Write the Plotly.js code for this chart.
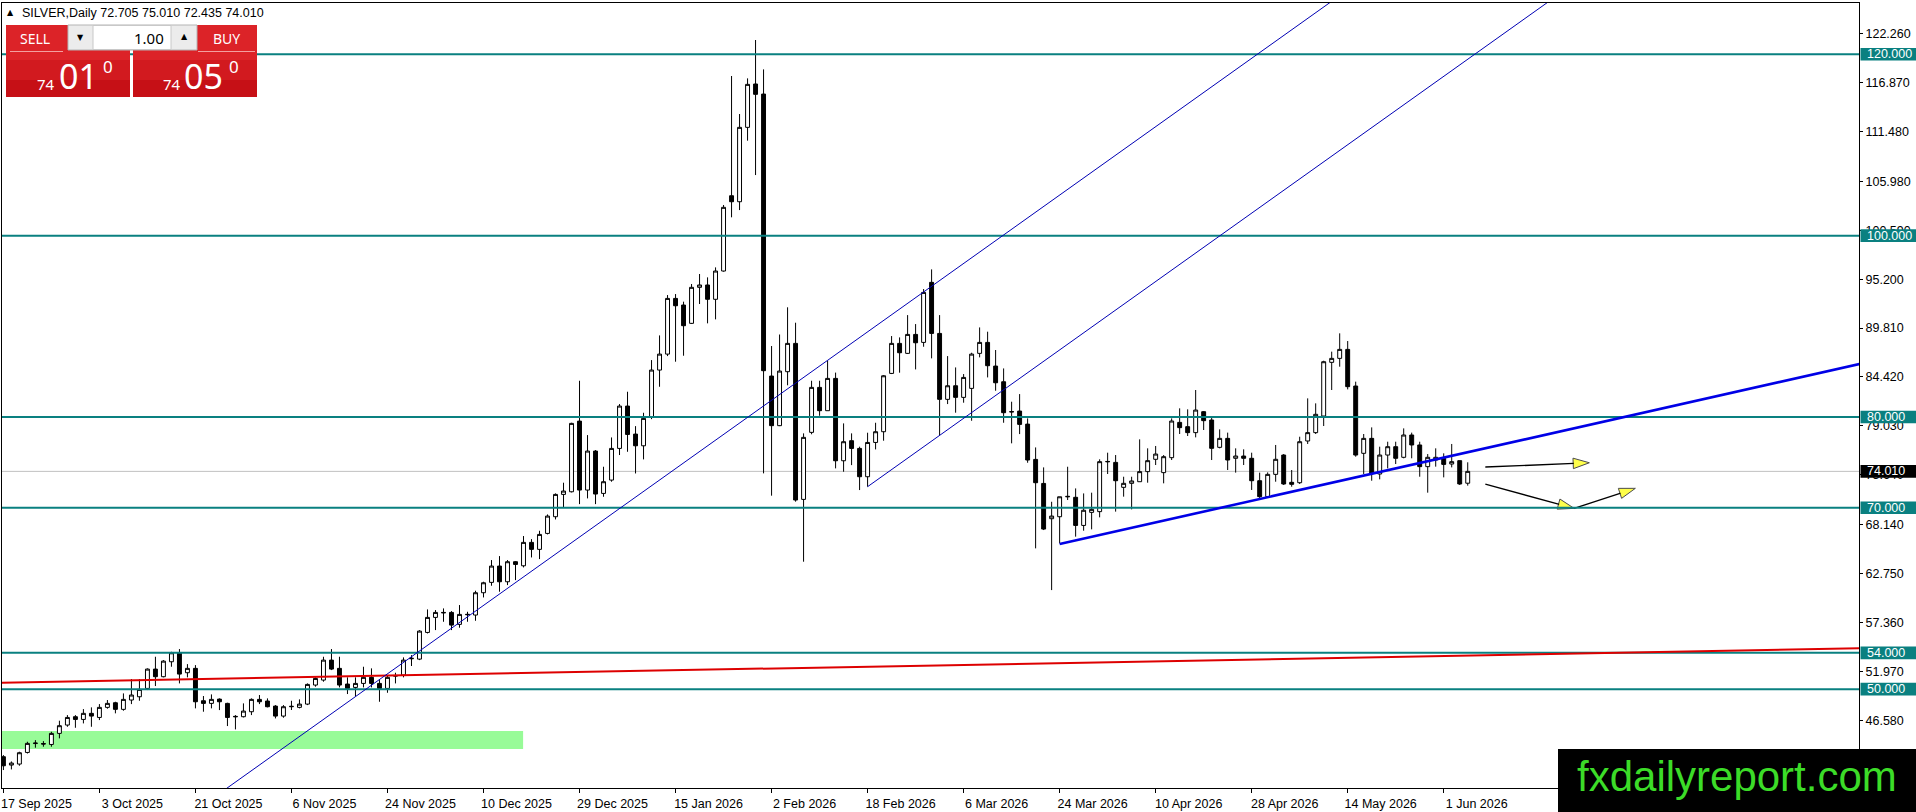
<!DOCTYPE html>
<html><head><meta charset="utf-8">
<script src="https://cdn.plot.ly/plotly-3.0.1.min.js"></script>
<style>html,body{margin:0;padding:0;background:#fff;overflow:hidden}#chart{width:1916px;height:812px}</style>
</head><body><div id="chart"></div>
<script>
// ---- OHLC data (daily bars) ----
const openP = [42.55,41.63,41.74,43.02,44.00,44.00,43.90,45.12,46.04,46.96,46.66,47.33,46.88,47.99,48.50,47.77,48.80,49.16,50.08,52.21,
51.37,53.02,54.01,51.81,52.29,48.72,48.43,48.90,48.43,47.00,46.96,47.51,48.87,48.69,48.13,47.03,48.06,47.99,48.35,50.45,
51.00,53.20,52.29,50.56,50.19,50.63,51.30,50.63,50.08,51.44,51.55,53.35,53.31,56.25,57.91,58.46,58.46,57.14,58.20,58.17,
60.63,61.77,63.57,61.84,64.05,63.60,66.18,65.41,67.17,69.01,71.47,71.76,79.55,71.95,76.25,71.58,73.05,76.54,81.21,78.12,
76.83,79.96,85.18,86.94,93.08,92.35,90.33,94.30,94.56,92.98,96.10,104.40,103.74,111.94,116.72,115.61,84.52,79.05,85.00,88.12,
70.92,78.31,83.27,80.70,84.26,75.18,77.39,76.54,73.42,77.20,78.38,84.81,88.12,87.02,89.11,88.23,94.85,89.22,81.95,83.45,
82.17,83.16,87.02,88.23,85.62,83.89,80.55,80.66,79.22,75.33,72.68,68.79,69.01,71.20,71.15,68.05,69.49,69.57,75.06,75.00,
72.25,72.69,72.87,73.98,75.34,73.87,75.52,79.41,78.94,78.28,80.59,79.67,76.66,77.65,75.45,75.70,75.45,72.98,71.22,73.68,
75.81,72.80,72.76,77.36,78.28,80.11,86.03,86.47,87.46,83.42,76.00,77.65,73.72,75.81,76.73,75.56,78.02,76.92,74.53,75.26,
75.45,74.82,75.19,72.705];
const highP = [42.73,42.03,43.10,44.20,44.38,44.27,45.30,46.52,47.14,47.14,47.80,47.99,48.35,48.80,48.61,49.53,51.11,51.11,52.29,53.57,
53.20,54.12,54.42,52.76,52.65,49.24,49.42,48.98,48.50,47.14,48.43,48.98,49.35,48.98,48.24,48.24,48.72,48.87,50.63,51.30,
53.57,54.42,53.57,51.30,51.30,52.47,52.29,51.00,51.55,51.81,53.50,53.75,56.50,58.79,58.72,58.90,58.60,59.27,58.53,60.85,
61.84,64.23,64.67,64.23,64.12,66.88,66.54,67.46,69.26,71.58,72.76,79.37,84.00,78.01,76.36,74.52,77.75,81.43,82.79,79.00,
80.47,86.28,89.00,93.45,93.56,92.72,94.67,95.77,95.40,96.50,103.38,117.60,113.41,117.34,121.57,118.33,87.83,89.10,92.10,90.40,
78.20,84.00,84.00,86.20,84.90,79.30,78.20,76.73,78.27,79.37,84.63,88.93,88.78,91.24,90.25,94.11,96.28,91.24,86.72,85.47,
84.74,87.09,89.88,89.41,87.39,85.36,81.69,82.53,79.85,76.65,74.45,70.66,71.21,74.52,72.13,71.58,71.66,75.34,76.07,75.81,
73.42,73.42,77.54,76.55,76.81,75.81,79.85,80.96,80.85,82.98,80.66,80.11,78.64,78.28,76.55,76.44,76.07,73.87,73.90,76.92,
75.92,74.16,77.83,82.06,81.51,86.21,87.21,89.23,88.38,83.90,78.13,78.86,76.73,77.28,77.28,78.75,78.28,77.28,75.92,76.55,
76.00,77.03,75.19,75.010];
const lowP = [41.08,41.15,41.55,42.90,43.54,43.65,43.65,44.57,45.85,45.74,46.22,45.85,46.59,47.84,47.33,47.62,48.35,48.72,49.90,50.34,
51.30,52.47,50.63,51.30,47.88,47.51,47.88,47.69,45.93,45.56,46.88,47.14,48.35,47.99,46.77,46.85,47.70,47.88,48.24,50.27,
50.82,52.10,50.19,49.46,49.24,50.19,50.19,48.61,49.60,50.63,51.30,52.55,53.20,56.14,56.51,57.43,56.51,56.77,57.43,57.54,
60.11,61.40,60.74,61.47,62.02,63.42,64.52,64.34,67.06,68.71,70.04,71.69,70.40,71.03,70.40,71.21,72.87,75.81,76.17,73.78,
75.33,79.77,83.34,86.72,86.10,86.76,90.26,92.46,90.33,90.77,96.03,102.02,102.82,110.47,106.68,73.79,71.33,79.00,83.50,70.67,
64.05,78.10,80.14,80.70,74.34,73.97,74.70,71.95,72.32,76.43,77.39,84.74,84.89,86.95,85.25,87.75,86.47,78.01,81.43,80.48,
81.58,79.59,86.58,84.37,82.90,79.37,77.10,78.12,74.96,65.52,67.54,60.92,66.07,70.85,66.81,67.47,67.62,68.94,73.72,69.57,
71.22,69.82,72.87,72.76,74.71,72.69,75.26,78.13,77.91,77.76,78.57,75.26,76.55,74.16,73.87,74.71,71.96,71.04,71.20,72.87,
72.51,72.32,72.62,77.03,78.13,79.01,82.98,85.55,83.05,75.63,73.72,72.98,73.13,74.34,74.82,75.45,75.45,73.42,71.66,74.53,
73.35,74.45,72.51,72.435];
const closeP = [41.55,41.85,42.99,44.02,44.05,43.95,45.12,45.97,46.88,46.66,47.33,47.03,47.99,48.43,47.77,48.87,49.35,49.97,52.21,51.37,
53.09,54.01,51.66,52.29,48.61,48.43,48.87,48.61,46.88,46.96,47.58,48.87,48.61,48.06,47.03,48.06,48.10,48.35,50.52,51.18,
53.20,52.21,50.45,50.08,50.63,51.30,50.63,50.08,51.30,51.48,53.20,53.40,56.40,57.91,58.46,58.42,57.06,58.24,58.24,60.63,
61.73,63.57,61.84,64.05,63.75,66.18,65.41,67.06,69.08,71.47,71.84,79.30,71.95,76.25,71.51,72.87,76.54,81.21,78.08,76.83,
79.85,85.18,86.94,93.08,92.27,90.07,94.30,94.56,92.98,96.10,103.12,103.74,111.94,116.68,115.58,85.11,79.05,85.07,88.12,70.85,
77.76,83.27,80.70,84.26,75.18,77.28,76.54,73.42,77.20,78.38,84.55,88.12,87.09,89.11,88.19,93.74,89.22,81.95,83.45,82.17,
84.37,86.94,88.23,85.66,83.78,80.48,80.60,79.19,75.26,72.76,67.65,69.08,71.21,71.25,68.05,69.72,69.82,75.08,75.10,72.98,
72.69,72.95,73.98,75.19,75.92,75.63,79.56,78.83,78.28,80.77,79.60,76.55,77.65,75.26,75.70,75.45,72.98,71.22,73.68,75.34,
72.62,72.58,77.28,78.28,80.30,86.10,86.47,87.46,83.35,75.81,77.65,73.79,75.81,76.73,75.45,78.02,76.92,74.53,75.56,75.56,
74.78,75.08,72.62,74.010];

// ---- axis labels ----
const tickBars = [0,12,24,36,48,60,72,84,96,108,120,132,144,156,168,180];
const tickLabels = ['17 Sep 2025','3 Oct 2025','21 Oct 2025','6 Nov 2025','24 Nov 2025','10 Dec 2025','29 Dec 2025','15 Jan 2026',
'2 Feb 2026','18 Feb 2026','6 Mar 2026','24 Mar 2026','10 Apr 2026','28 Apr 2026','14 May 2026','1 Jun 2026'];
const yTicks = [122.26,116.87,111.48,105.98,100.59,95.20,89.81,84.42,79.03,73.64,68.14,62.75,57.36,51.97,46.58];

// ---- drawn objects (bar index, price) ----
const levels = [120, 100, 80, 70, 54, 50];
const lastPrice = 74.010;
const headerInfo = ['SILVER,Daily', '72.705', '75.010', '72.435', '74.010'];
const sellQuote = ['74', '01', '0'];
const buyQuote = ['74', '05', '0'];
const lotSize = '1.00';
const channelLine = [[27.9, 39.06], [89.6, 77.83]];
const channelParallelStart = [108.0, 72.32];
const supportLine = [[132.0, 66.0], [184.6, 76.44]];
const redLine = [[0, 50.71], [231.9, 54.50]];
const greenZoneX = [-2, 64.95];
const greenZoneY = [43.40, 45.38];
const arrowFlatX = [185.2, 198.2];
const arrowFlatY = [74.49, 74.96];
const arrowDipX = [185.2, 196.3, 203.95];
const arrowDipY = [72.61, 69.93, 72.14];
const watermark = 'fxdailyreport.com';

// ---- page geometry ----
const W = 1916, H = 812, ML = 2, MR = 57, MT = 3, MB = 24;
const PW = W - ML - MR, PH = H - MT - MB;
const px = x => (x - ML) / PW;
const py = y => 1 - (y - MT) / PH;
const FONT = 'Liberation Sans, Arial, sans-serif';
const UIFONT = 'Noto Sans, Open Sans, sans-serif';
const TEAL = '#0a8080';

const bars = openP.map((_, i) => i);

function lineThrough(p1, p2, xa, xb) {
  const k = (p2[1] - p1[1]) / (p2[0] - p1[0]);
  return {x0: xa, y0: p1[1] + (xa - p1[0]) * k, x1: xb, y1: p1[1] + (xb - p1[0]) * k, k: k};
}

const shapes = [];
const annotations = [];

// green zone (behind candles)
shapes.push({type:'rect', xref:'x', yref:'y', x0:greenZoneX[0], x1:greenZoneX[1], y0:greenZoneY[0], y1:greenZoneY[1],
  fillcolor:'#98fb98', line:{width:0}, layer:'below'});
// current price line
shapes.push({type:'line', xref:'paper', yref:'y', x0:0, x1:1, y0:lastPrice, y1:lastPrice,
  line:{color:'#c0c0c0', width:1}, layer:'below'});
// levels
levels.forEach(v => shapes.push({type:'line', xref:'paper', yref:'y', x0:0, x1:1, y0:v, y1:v,
  line:{color:TEAL, width:2}, layer:'above'}));
// red trend line
{ const L = lineThrough(redLine[0], redLine[1], -2, 234);
  shapes.push({type:'line', xref:'x', yref:'y', x0:L.x0, y0:L.y0, x1:L.x1, y1:L.y1, line:{color:'#dd0000', width:2}, layer:'above'}); }
// channel
{ const A = lineThrough(channelLine[0], channelLine[1], 15, 180);
  shapes.push({type:'line', xref:'x', yref:'y', x0:A.x0, y0:A.y0, x1:A.x1, y1:A.y1, line:{color:'#0000b4', width:1}, layer:'above'});
  const p2 = [channelParallelStart[0] + 10, channelParallelStart[1] + 10 * A.k];
  const B = lineThrough(channelParallelStart, p2, channelParallelStart[0], 200);
  shapes.push({type:'line', xref:'x', yref:'y', x0:B.x0, y0:B.y0, x1:B.x1, y1:B.y1, line:{color:'#0000b4', width:1}, layer:'above'}); }
// support line
{ const S = lineThrough(supportLine[0], supportLine[1], supportLine[0][0], 234);
  shapes.push({type:'line', xref:'x', yref:'y', x0:S.x0, y0:S.y0, x1:S.x1, y1:S.y1, line:{color:'#0000e6', width:2.6}, layer:'above'}); }

// price boxes on the right axis
const boxHalf = 6.3 / (PH / (125.65 - 39.10));
function priceBox(v, bg) {
  shapes.push({type:'rect', xref:'paper', yref:'y', x0:px(1860.5), x1:px(1917), y0:v - boxHalf, y1:v + boxHalf,
    fillcolor:bg, line:{width:0}, layer:'above'});
  annotations.push({xref:'paper', yref:'y', x:px(1865), y:v, xanchor:'left', yanchor:'middle', showarrow:false,
    text:v.toFixed(3), font:{family:FONT, size:12.5, color:'#ffffff'}});
}
levels.forEach(v => priceBox(v, TEAL));
priceBox(lastPrice, '#000000');

// header text
annotations.push({xref:'paper', yref:'paper', x:px(5), y:py(13), xanchor:'left', yanchor:'middle', showarrow:false,
  text:'▲', font:{family:'DejaVu Sans', size:8, color:'#000'}});
annotations.push({xref:'paper', yref:'paper', x:px(20), y:py(13), xanchor:'left', yanchor:'middle', showarrow:false,
  text:headerInfo.join(' '), font:{family:FONT, size:12.5, color:'#000'}});

// one-click trading panel
function prect(x0, y0, x1, y1, fill, lc, lw) {
  shapes.push({type:'rect', xref:'paper', yref:'paper', x0:px(x0), x1:px(x1), y0:py(y0), y1:py(y1),
    fillcolor:fill, line:{color:lc || fill, width:lw || 0}, layer:'above'});
}
function pline(x0, y0, x1, y1, c) {
  shapes.push({type:'line', xref:'paper', yref:'paper', x0:px(x0), x1:px(x1), y0:py(y0), y1:py(y1),
    line:{color:c, width:1}, layer:'above'});
}
function ptext(x, y, t, size, color, anchor, fam) {
  annotations.push({xref:'paper', yref:'paper', x:px(x), y:py(y), xanchor:anchor || 'center', yanchor:'middle',
    showarrow:false, text:t, font:{family:fam || UIFONT, size:size, color:color}});
}
[[6,130],[133,257]].forEach(([a, b]) => {
  prect(a, 25, b, 60, '#dc2328');
  prect(a, 60, b, 80, '#d21a1f');
  prect(a, 80, b, 97, '#c61016');
});
pline(10, 51.5, 63, 51.5, '#f3a0a0');
pline(198, 51.5, 255, 51.5, '#f3a0a0');
prect(68, 25, 197, 50, '#ececec', '#b4b4b4', 1);
prect(93, 25.5, 171, 49.5, '#ffffff', '#c8c8c8', 1);
ptext(80.5, 37.5, '▼', 8, '#000', 'center', 'DejaVu Sans');
ptext(184, 37, '▲', 8, '#000', 'center', 'DejaVu Sans');
ptext(166, 38, lotSize, 15, '#000', 'right');
ptext(35, 38.5, 'SELL', 14, '#fff');
ptext(226, 38.5, 'BUY', 14, '#fff');
ptext(46, 84, sellQuote[0], 15, '#fff');
ptext(78.5, 76, sellQuote[1], 34, '#fff');
ptext(107.5, 66.5, sellQuote[2], 17, '#fff');
ptext(171.5, 84, buyQuote[0], 15, '#fff');
ptext(203.5, 76, buyQuote[1], 34, '#fff');
ptext(234, 66.5, buyQuote[2], 17, '#fff');

// watermark
prect(1558, 749, 1917, 813, '#000000');
ptext(1737, 776, watermark, 42, '#3cdc28', 'center', FONT);

const traces = [
  {type:'candlestick', x:bars, open:openP, high:highP, low:lowP, close:closeP,
   increasing:{line:{color:'#000', width:1}, fillcolor:'#ffffff'},
   decreasing:{line:{color:'#000', width:1}, fillcolor:'#000000'},
   whiskerwidth:0, hoverinfo:'skip', showlegend:false},
  {type:'scatter', mode:'lines+markers', x:arrowFlatX, y:arrowFlatY, showlegend:false, hoverinfo:'skip',
   line:{color:'#000', width:1.4},
   marker:{symbol:'arrow', size:[0, 17], color:'#ffff00', angleref:'previous', line:{color:'#000', width:1}}},
  {type:'scatter', mode:'lines+markers', x:arrowDipX, y:arrowDipY, showlegend:false, hoverinfo:'skip',
   line:{color:'#000', width:1.4},
   marker:{symbol:'arrow', size:[0, 17, 17], color:'#ffff00', angleref:'previous', line:{color:'#000', width:1}}}
];

const layout = {
  width:W, height:H, margin:{l:ML, r:MR, t:MT, b:MB, pad:0},
  paper_bgcolor:'#ffffff', plot_bgcolor:'#ffffff', showlegend:false, hovermode:false,
  font:{family:FONT, size:12.5, color:'#000'},
  xaxis:{range:[-0.175, 231.9], showgrid:false, zeroline:false, showline:true, mirror:true, linecolor:'#000', linewidth:1,
    ticks:'outside', ticklen:4, tickcolor:'#000', tickvals:tickBars, ticktext:tickLabels, ticklabelshift:33,
    tickfont:{family:FONT, size:12.5, color:'#000'}, rangeslider:{visible:false}, fixedrange:true},
  yaxis:{range:[39.10, 125.65], side:'right', showgrid:false, zeroline:false, showline:true, mirror:true,
    linecolor:'#000', linewidth:1, ticks:'outside', ticklen:3, tickcolor:'#000', tickvals:yTicks, tickformat:'.3f',
    tickfont:{family:FONT, size:12.5, color:'#000'}, fixedrange:true},
  shapes:shapes, annotations:annotations
};

Plotly.newPlot('chart', traces, layout, {displayModeBar:false, staticPlot:true});
</script>
</body></html>
